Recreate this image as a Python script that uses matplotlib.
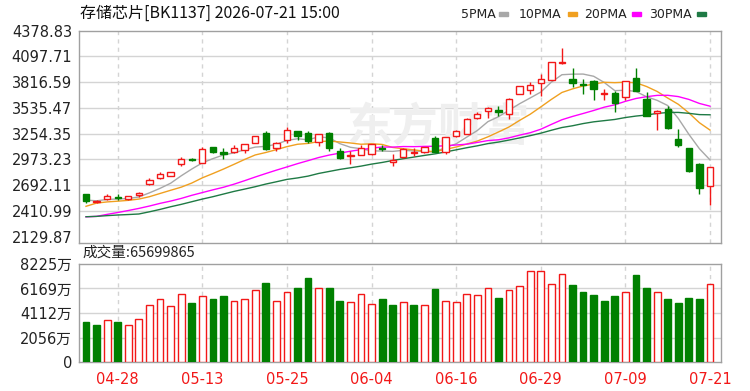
import matplotlib.pyplot as plt
import numpy as np
import pandas as pd
from matplotlib.patches import Rectangle

plt.rcParams["font.family"] = ["DejaVu Sans", "Noto Sans CJK SC"]

# trading days (exchange holidays removed)
dates = pd.bdate_range("2026-04-23", "2026-07-21")
dates = dates[~dates.isin(pd.to_datetime(["2026-05-01", "2026-05-04", "2026-05-05", "2026-06-19"]))]

opens = [2590, 2506, 2539, 2560, 2536, 2585, 2700, 2765, 2793, 2917,
         2978, 2935, 3103, 3048, 3048, 3073, 3157, 3266, 3093, 3182,
         3281, 3266, 3165, 3266, 3066, 3008, 3026, 3030, 3100, 2945,
         3000, 3040, 3048, 3207, 3058, 3226, 3250, 3420, 3502, 3517,
         3466, 3692, 3728, 3807, 3845, 4030, 3855, 3800, 3826, 3685,
         3703, 3655, 3866, 3637, 3482, 3528, 3200, 3092, 2917, 2684]
highs = [2594, 2530, 2592, 2590, 2578, 2619, 2770, 2830, 2834, 2998,
         2990, 3105, 3110, 3092, 3128, 3140, 3232, 3285, 3165, 3322,
         3285, 3285, 3250, 3270, 3100, 3062, 3135, 3140, 3135, 3030,
         3095, 3100, 3105, 3225, 3222, 3290, 3422, 3490, 3542, 3553,
         3640, 3780, 3818, 3910, 4040, 4195, 3975, 3855, 3845, 3745,
         3720, 3832, 3975, 3710, 3517, 3553, 3310, 3095, 2928, 2893]
lows = [2500, 2495, 2530, 2530, 2530, 2564, 2695, 2758, 2790, 2900,
        2950, 2930, 3045, 2975, 3045, 3040, 3155, 3075, 3062, 3153,
        3185, 3155, 3120, 3062, 2980, 2918, 3020, 3025, 3060, 2905,
        2983, 3012, 3045, 3050, 3037, 3222, 3245, 3415, 3430, 3444,
        3411, 3688, 3692, 3662, 3835, 4015, 3765, 3685, 3625, 3626,
        3491, 3626, 3718, 3445, 3299, 3305, 3103, 2837, 2590, 2474]
closes = [2517, 2513, 2575, 2548, 2572, 2600, 2742, 2818, 2830, 2975,
          2968, 3082, 3048, 3030, 3092, 3136, 3229, 3086, 3148, 3299,
          3230, 3172, 3248, 3093, 2984, 3026, 3092, 3136, 3082, 2962,
          3090, 3055, 3103, 3055, 3218, 3284, 3419, 3466, 3538, 3490,
          3637, 3775, 3782, 3855, 4036, 4040, 3808, 3785, 3737, 3695,
          3594, 3829, 3720, 3448, 3498, 3312, 3128, 2848, 2657, 2891]

ma5 = [2528, 2520, 2535, 2540, 2545, 2562, 2607, 2656, 2712, 2793,
       2867, 2935, 2981, 3021, 3044, 3078, 3107, 3115, 3138, 3180,
       3198, 3187, 3219, 3208, 3145, 3105, 3089, 3066, 3064, 3060,
       3072, 3065, 3058, 3053, 3104, 3143, 3216, 3288, 3385, 3439,
       3510, 3581, 3644, 3708, 3817, 3898, 3904, 3905, 3881, 3813,
       3724, 3728, 3715, 3657, 3618, 3561, 3421, 3247, 3089, 2967]
ma10 = [2460, 2495, 2508, 2516, 2525, 2539, 2565, 2600, 2635, 2669,
        2714, 2771, 2818, 2867, 2919, 2972, 3021, 3048, 3079, 3112,
        3138, 3147, 3167, 3173, 3163, 3152, 3138, 3143, 3136, 3103,
        3089, 3077, 3062, 3059, 3082, 3108, 3140, 3173, 3219, 3272,
        3327, 3399, 3466, 3546, 3628, 3704, 3743, 3775, 3795, 3815,
        3811, 3816, 3810, 3769, 3715, 3643, 3575, 3481, 3373, 3293]
ma20 = [2345, 2350, 2372, 2392, 2414, 2437, 2463, 2492, 2517, 2546,
        2580, 2610, 2640, 2668, 2702, 2740, 2780, 2818, 2855, 2890,
        2926, 2959, 2993, 3020, 3041, 3062, 3079, 3095, 3108, 3107,
        3113, 3112, 3115, 3116, 3122, 3130, 3139, 3158, 3178, 3187,
        3208, 3238, 3264, 3302, 3355, 3406, 3442, 3474, 3507, 3543,
        3569, 3607, 3638, 3658, 3672, 3673, 3659, 3628, 3584, 3554]
ma30 = [2346, 2350, 2358, 2365, 2370, 2376, 2400, 2426, 2455, 2481,
        2510, 2539, 2565, 2594, 2623, 2648, 2674, 2703, 2728, 2754,
        2770, 2790, 2819, 2841, 2863, 2881, 2899, 2921, 2939, 2961,
        2980, 2998, 3016, 3033, 3054, 3077, 3100, 3121, 3145, 3162,
        3184, 3207, 3232, 3259, 3291, 3321, 3340, 3364, 3383, 3396,
        3409, 3430, 3446, 3458, 3475, 3485, 3486, 3476, 3462, 3460]

# volume in 万 (10k shares)
volume_wan = [3357, 3133, 3497, 3357, 3133, 3609, 4784, 5260, 4672, 5735,
              4924, 5511, 5288, 5511, 5148, 5260, 6071, 6603, 5148, 5875,
              6211, 7050, 6211, 6211, 5148, 5036, 5735, 4896, 5288, 4812,
              5036, 4812, 4784, 6127, 5148, 5036, 5735, 5623, 6211, 5399,
              6015, 6351, 7638, 7638, 6575, 7414, 6491, 5875, 5623, 5148,
              5511, 5875, 7330, 6211, 5875, 5288, 4952, 5399, 5288, 6570]
last_volume = 65699865

price_ticks = [2129.87, 2410.99, 2692.11, 2973.23, 3254.35, 3535.47, 3816.59, 4097.71, 4378.83]
vol_ticks = [0, 2056, 4112, 6169, 8225]

title = "存储芯片[BK1137] 2026-07-21 15:00"
ma_names = ["5PMA", "10PMA", "20PMA", "30PMA"]
ma_colors = ["#a8a8a8", "#f0a020", "#ff00ff", "#1f7a45"]

RED = "#f21818"
GREEN = "#008000"
GRID = "#d4d4d4"
FRAME = "#a0a0a0"

o, h, l, c = (np.array(v, dtype=float) for v in (opens, highs, lows, closes))
x = np.arange(len(c))
up = c >= o
lo = np.minimum(o, c)
hi = np.maximum(o, c)
tick_idx = list(range(len(x) - 1, -1, -8))[::-1]
tick_lab = [dates[i].strftime("%m-%d") for i in tick_idx]

fig = plt.figure(figsize=(7.5, 3.91), dpi=100)
ax = fig.add_axes([79 / 750, 1 - 243 / 391, 642 / 750, (243 - 30.7) / 391])
axv = fig.add_axes([79 / 750, 1 - 362 / 391, 642 / 750, 98 / 391])

for a in (ax, axv):
    a.set_xlim(-0.66, 60.04)
    for s in a.spines.values():
        s.set_color(FRAME)
        s.set_linewidth(1)
    for t in tick_idx:
        a.axvline(t, color=GRID, lw=1, ls=(0, (3, 3)), zorder=0)
    a.tick_params(length=0, labelsize=10.5, colors="#222222", pad=5)

# price panel
ax.set_ylim(price_ticks[0] - 6.5 * (price_ticks[1] - price_ticks[0]) / 25.8, price_ticks[-1])
ax.set_yticks(price_ticks)
ax.set_yticklabels([f"{p:.2f}" for p in price_ticks])
for p in price_ticks[1:-1]:
    ax.axhline(p, color=GRID, lw=1, zorder=0)
ax.set_xticks([])

ax.text(0.56, 0.54, "东方财富", transform=ax.transAxes, ha="center", va="center",
        fontsize=33, fontweight="bold", color="#efefef", family="Noto Sans CJK SC", zorder=0)

for vals, col in zip((ma5, ma10, ma20, ma30), ma_colors):
    ax.plot(x, vals, color=col, lw=1, zorder=2)

w = 0.6
dn = ~up
ax.vlines(x[dn], l[dn], h[dn], color=GREEN, lw=1, zorder=3)
ax.bar(x[dn], (hi - lo)[dn], w, bottom=lo[dn], color=GREEN, edgecolor=GREEN, lw=1, zorder=4)
ax.vlines(x[up], l[up], lo[up], color=RED, lw=1, zorder=3)
ax.vlines(x[up], hi[up], h[up], color=RED, lw=1, zorder=3)
ax.bar(x[up], (hi - lo)[up], w, bottom=lo[up], facecolor="white", edgecolor=RED, lw=1, zorder=4)

# volume panel
vol = np.array(volume_wan, dtype=float)
prev = np.concatenate([[o[0]], c[:-1]])
vup = c >= prev
axv.set_ylim(0, vol_ticks[-1])
axv.set_yticks(vol_ticks)
axv.set_yticklabels(["0"] + [f"{v}万" for v in vol_ticks[1:]])
for v in vol_ticks[1:-1]:
    axv.axhline(v, color=GRID, lw=1, zorder=0)
axv.bar(x[~vup], vol[~vup], 0.64, color=GREEN, edgecolor=GREEN, lw=1, zorder=3)
axv.bar(x[vup], vol[vup], 0.64, facecolor="white", edgecolor=RED, lw=1, zorder=3)
axv.set_xticks(tick_idx)
axv.set_xticklabels(tick_lab)
axv.tick_params(axis="x", colors=RED, pad=7)

# texts
fig.text(80 / 750, 1 - 13 / 391, title, fontsize=11.5, va="center", ha="left",
         family=["Noto Sans CJK SC", "DejaVu Sans"], color="#111111")
fig.text(82 / 750, 1 - 253 / 391, f"成交量:{last_volume}", fontsize=10.5, va="center", ha="left",
         family=["Noto Sans CJK SC", "DejaVu Sans"], color="#222222")

lab_x = [461, 519, 584, 649]
sw_x = [499, 568, 632, 697]
for name, col, lx, sx in zip(ma_names, ma_colors, lab_x, sw_x):
    fig.text(lx / 750, 1 - 14 / 391, name, fontsize=9, va="center", ha="left", color="#222222")
    fig.add_artist(Rectangle((sx / 750, 1 - 15.5 / 391), 9 / 750, 3 / 391,
                             transform=fig.transFigure, color=col))

fig.savefig("out.png", dpi=100, facecolor="white")
